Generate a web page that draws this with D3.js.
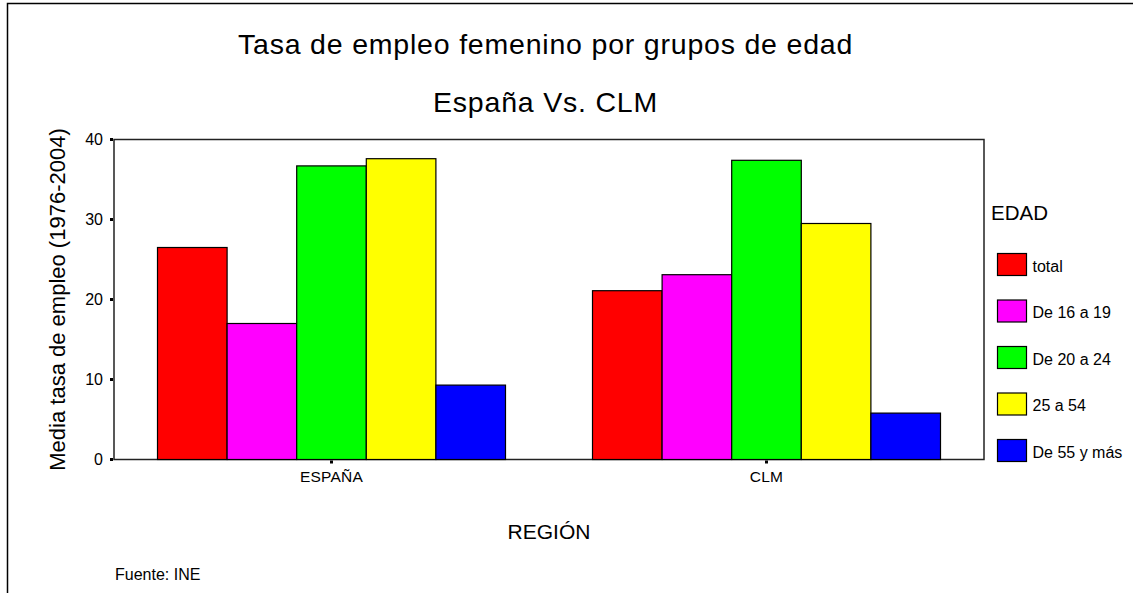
<!DOCTYPE html>
<html>
<head>
<meta charset="utf-8">
<script src="https://cdn.jsdelivr.net/npm/d3@7"></script>
<style>
  body { margin: 0; background: #fff; }
  text { font-family: "Liberation Sans", Arial, sans-serif; fill: #000; }
</style>
</head>
<body>
<script>
// data
var regiones = ['ESPAÑA', 'CLM'];
var edades = ['total', 'De 16 a 19', 'De 20 a 24', '25 a 54', 'De 55 y más'];
var colores = ['#ff0000', '#ff00ff', '#00ff00', '#ffff00', '#0000ff'];
var espana = [26.5, 17.0, 36.7, 37.6, 9.3];
var clm = [21.1, 23.1, 37.4, 29.5, 5.8];
var yTicks = [0, 10, 20, 30, 40];

var width = 1133, height = 593;
var plot = {left: 114, top: 139.5, right: 984, bottom: 459.5};

var svg = d3.select('body').append('svg')
  .attr('width', width)
  .attr('height', height);

// outer frame (runs off the right and bottom of the picture)
svg.append('rect')
  .attr('x', 7.5).attr('y', 3.5)
  .attr('width', 1300).attr('height', 800)
  .attr('fill', 'none')
  .attr('stroke', '#000')
  .attr('stroke-width', 1.5);

var x0 = d3.scaleBand()
  .domain(regiones)
  .range([plot.left, plot.right])
  .paddingInner(0.2)
  .paddingOuter(0.1);

var x1 = d3.scaleBand()
  .domain(edades)
  .range([0, x0.bandwidth()]);

var y = d3.scaleLinear()
  .domain([0, 40])
  .range([plot.bottom, plot.top]);

var color = d3.scaleOrdinal().domain(edades).range(colores);

var rows = [
  {region: 'ESPAÑA', values: espana},
  {region: 'CLM', values: clm}
];

// plot frame
svg.append('rect')
  .attr('x', plot.left).attr('y', plot.top)
  .attr('width', plot.right - plot.left)
  .attr('height', plot.bottom - plot.top)
  .attr('fill', 'none')
  .attr('stroke', '#222')
  .attr('stroke-width', 1.5);

var groups = svg.selectAll('g.grupo')
  .data(rows)
  .enter().append('g')
  .attr('class', 'grupo')
  .attr('transform', function(d) { return 'translate(' + x0(d.region) + ',0)'; });

groups.selectAll('rect')
  .data(function(d) {
    return d.values.map(function(v, i) { return {edad: edades[i], value: v}; });
  })
  .enter().append('rect')
  .attr('x', function(d) { return x1(d.edad); })
  .attr('y', function(d) { return y(d.value); })
  .attr('width', x1.bandwidth())
  .attr('height', function(d) { return y(0) - y(d.value); })
  .attr('fill', function(d) { return color(d.edad); })
  .attr('stroke', '#000')
  .attr('stroke-width', 1.2);

// y axis: little square ticks + labels
var yAxis = svg.append('g');
yAxis.selectAll('rect')
  .data(yTicks)
  .enter().append('rect')
  .attr('x', plot.left - 4).attr('y', function(d) { return y(d) - 1.5; })
  .attr('width', 3).attr('height', 3)
  .attr('fill', '#000');
yAxis.selectAll('text')
  .data(yTicks)
  .enter().append('text')
  .attr('x', 103)
  .attr('y', function(d) { return y(d) + 5.5; })
  .attr('text-anchor', 'end')
  .style('font-size', '16px')
  .text(function(d) { return d; });

// x axis ticks + labels
var xAxis = svg.append('g');
xAxis.selectAll('rect')
  .data(regiones)
  .enter().append('rect')
  .attr('x', function(d) { return x0(d) + x0.bandwidth() / 2 - 1.5; })
  .attr('y', plot.bottom + 1)
  .attr('width', 3).attr('height', 3)
  .attr('fill', '#000');
xAxis.selectAll('text')
  .data(regiones)
  .enter().append('text')
  .attr('x', function(d) { return x0(d) + x0.bandwidth() / 2; })
  .attr('y', 482)
  .attr('text-anchor', 'middle')
  .style('font-size', '15.5px')
  .style('letter-spacing', '0.2px')
  .text(function(d) { return d; });

// titles
svg.append('text')
  .attr('x', 238).attr('y', 53.5)
  .style('font-size', '28.5px')
  .style('letter-spacing', '0.8px')
  .text('Tasa de empleo femenino por grupos de edad');
svg.append('text')
  .attr('x', 433).attr('y', 111.5)
  .style('font-size', '28.5px')
  .style('letter-spacing', '0.8px')
  .text('España Vs. CLM');

svg.append('text')
  .attr('transform', 'translate(65,' + ((plot.top + plot.bottom) / 2) + ') rotate(-90)')
  .attr('text-anchor', 'middle')
  .style('font-size', '22px')
  .text('Media tasa de empleo (1976-2004)');

svg.append('text')
  .attr('x', (plot.left + plot.right) / 2).attr('y', 539)
  .attr('text-anchor', 'middle')
  .style('font-size', '21px')
  .text('REGIÓN');

svg.append('text')
  .attr('x', 115).attr('y', 580)
  .style('font-size', '16px')
  .text('Fuente: INE');

// legend
var legend = svg.append('g');
legend.append('text')
  .attr('x', 991).attr('y', 220)
  .style('font-size', '20.5px')
  .text('EDAD');

var items = legend.selectAll('g.item')
  .data(edades)
  .enter().append('g')
  .attr('class', 'item')
  .attr('transform', function(d, i) { return 'translate(997.5,' + (253.5 + i * 46.5) + ')'; });

items.append('rect')
  .attr('width', 29).attr('height', 22)
  .attr('fill', function(d) { return color(d); })
  .attr('stroke', '#000')
  .attr('stroke-width', 1.2);

items.append('text')
  .attr('x', 35).attr('y', 18)
  .style('font-size', '16px')
  .text(function(d) { return d; });
</script>
</body>
</html>
